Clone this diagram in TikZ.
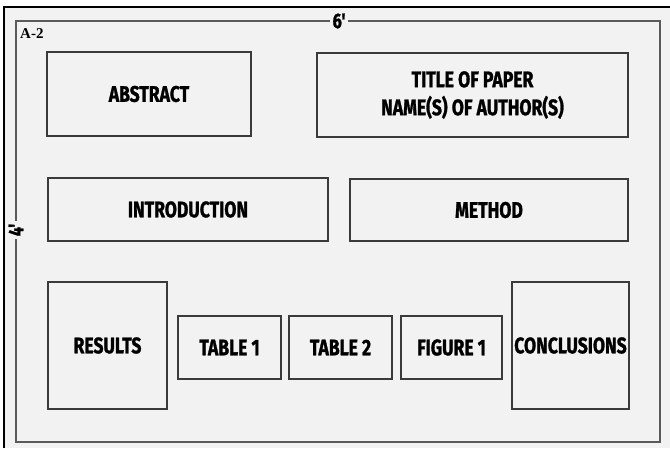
\documentclass[tikz,border=0pt]{standalone}
\usepackage{fontspec}
\newfontfamily\boxfont[FakeStretch=0.78,BoldFeatures={FakeBold=1.2}]{Fira Sans}
\newfontfamily\serifbold{Liberation Serif}
\definecolor{bgc}{HTML}{F2F2F2}
\definecolor{boxline}{HTML}{3A3A3A}
\definecolor{frameline}{HTML}{5A5A5A}
\tikzset{
  box/.style={draw=boxline, line width=1.3pt, rectangle, inner sep=0pt,
    font=\boxfont\bfseries\fontsize{22.5}{28}\selectfont, align=center, text=black},
  dimlabel/.style={fill=bgc, inner sep=2.5pt, font=\boxfont\bfseries\fontsize{21}{21}\selectfont}
}
\begin{document}
\begin{tikzpicture}[x=1pt,y=-1pt]
\useasboundingbox (0,0) rectangle (670,448);
\fill[white] (0,0) rectangle (670,448);
\fill[bgc] (4,7) rectangle (670,448);
\draw[black, line width=1.5pt] (4,448) -- (4,7) -- (670,7);
% inner frame
\draw[frameline, line width=1.5pt] (16,21) rectangle (660,442);
\node[dimlabel] (six) at (339,21) {6'};
\node[dimlabel, rotate=90] (four) at (16,230) {4'};
\node[font=\serifbold\bfseries\fontsize{15}{15}\selectfont, anchor=north west, inner sep=0pt] (a2) at (20,28) {A-2};
% boxes
\node[box, minimum width=204pt, minimum height=84pt] (abs) at (149,94) {ABSTRACT};
\node[box, minimum width=311pt, minimum height=84pt] (title) at (472.5,95) {TITLE OF PAPER\\NAME(S) OF AUTHOR(S)};
\node[box, minimum width=280pt, minimum height=63pt] (intro) at (188,209.5) {INTRODUCTION};
\node[box, minimum width=278pt, minimum height=62pt] (method) at (489,210) {METHOD};
\node[box, minimum width=119pt, minimum height=127pt] (results) at (107.5,345.5) {RESULTS};
\node[box, minimum width=103pt, minimum height=63pt] (t1) at (229.5,347.5) {TABLE 1};
\node[box, minimum width=103pt, minimum height=63pt] (t2) at (340.5,347.5) {TABLE 2};
\node[box, minimum width=101pt, minimum height=63pt] (f1) at (451.5,347.5) {FIGURE 1};
\node[box, minimum width=117pt, minimum height=127pt] (concl) at (570.5,345.5) {CONCLUSIONS};
\end{tikzpicture}
\end{document}
